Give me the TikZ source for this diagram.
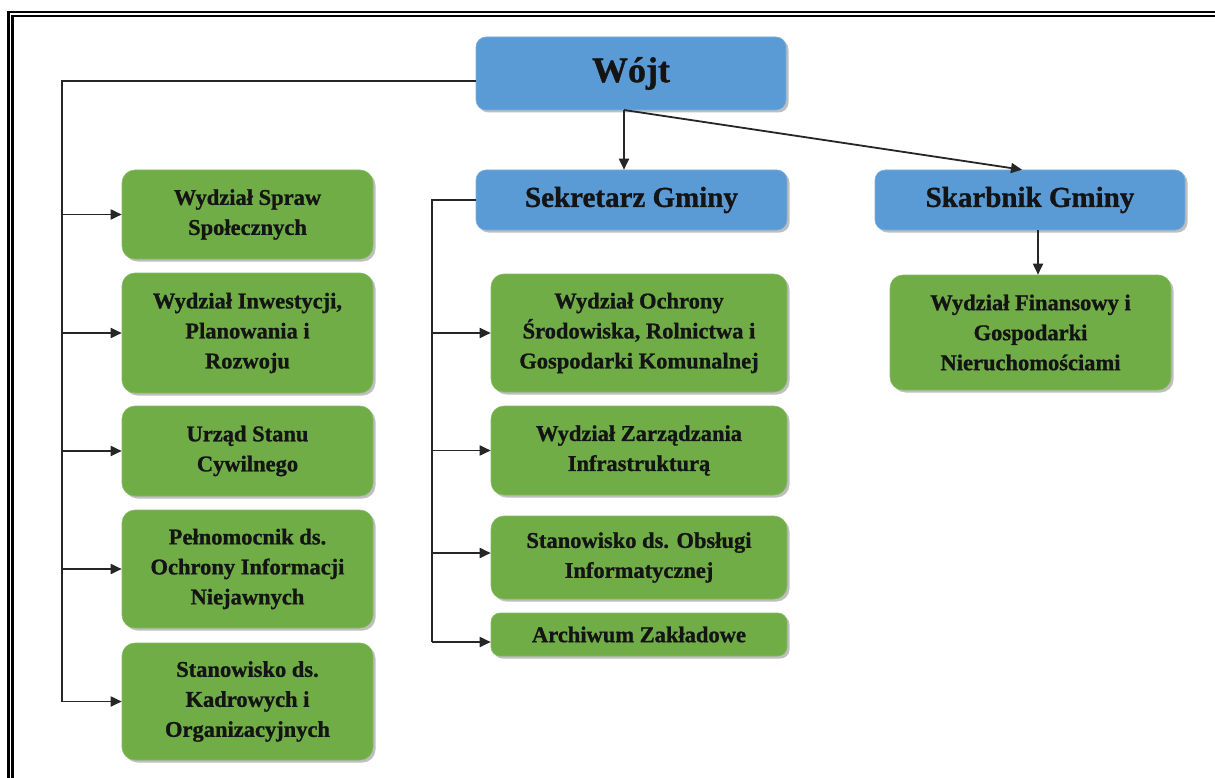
\documentclass[tikz,border=0pt]{standalone}
\usepackage{fontspec}
\setmainfont{Liberation Serif}[BoldFeatures={FakeBold=1}]
\usetikzlibrary{arrows.meta,shadows}
\definecolor{bblue}{HTML}{5B9BD5}
\definecolor{bgreen}{HTML}{70AD47}
\tikzset{
 box/.style={inner sep=0pt, align=center, text=black!92,
   font=\bfseries\fontsize{22.5}{30}\selectfont,
   drop shadow={shadow xshift=2.5pt,shadow yshift=-2.5pt,fill=black!45,opacity=0.55}},
 gbox/.style={box, rounded corners=13pt, fill=bgreen, draw=bgreen!85!white, line width=0.6pt},
 bbox/.style={box, rounded corners=10pt, fill=bblue, draw=bblue!80!white, line width=0.6pt},
 arr/.style={-{Triangle[length=11pt,width=10pt]}, line width=1.8pt, draw=black!85},
 ln/.style={line width=1.8pt, draw=black!85},
}
\begin{document}
\begin{tikzpicture}[x=1pt,y=-1pt]
\useasboundingbox (0,0) rectangle (1215,778);
\clip (0,0) rectangle (1215,778);
\fill[white] (0,0) rectangle (1215,778);
% frame
\draw[line width=2.2pt] (8.5,11.8) rectangle (1300,850);
\draw[line width=2.2pt] (12.5,16) rectangle (1296,846);

% top level
\node[bbox, minimum width=310pt, minimum height=73pt, font=\bfseries\fontsize{36}{40}\selectfont] (wojt) at (631,73.5) {Wójt};
\node[bbox, minimum width=311pt, minimum height=60pt, font=\bfseries\fontsize{29}{32}\selectfont] (sek) at (631.5,200) {Sekretarz Gminy};
\node[bbox, minimum width=310pt, minimum height=60pt, font=\bfseries\fontsize{29}{32}\selectfont] (skarb) at (1030,200) {Skarbnik Gminy};

% left column
\node[gbox, minimum width=251pt, minimum height=89pt] (l1) at (247.5,214.5) {Wydział Spraw\\Społecznych};
\node[gbox, minimum width=251pt, minimum height=120pt] (l2) at (247.5,333) {Wydział Inwestycji,\\Planowania i\\Rozwoju};
\node[gbox, minimum width=251pt, minimum height=90pt] (l3) at (247.5,451) {Urząd Stanu\\Cywilnego};
\node[gbox, minimum width=251pt, minimum height=118pt] (l4) at (247.5,569) {Pełnomocnik ds.\\Ochrony Informacji\\Niejawnych};
\node[gbox, minimum width=251pt, minimum height=117pt] (l5) at (247.5,701.5) {Stanowisko ds.\\Kadrowych i\\Organizacyjnych};

% middle column
\node[gbox, minimum width=296pt, minimum height=118pt] (m1) at (639,333) {Wydział Ochrony\\Środowiska, Rolnictwa i\\Gospodarki Komunalnej};
\node[gbox, minimum width=296pt, minimum height=89pt] (m2) at (639,450.5) {Wydział Zarządzania\\Infrastrukturą};
\node[gbox, minimum width=296pt, minimum height=83pt] (m3) at (639,557.5) {Stanowisko ds. Obsługi\\Informatycznej};
\node[gbox, minimum width=296pt, minimum height=43pt, rounded corners=9pt] (m4) at (639,634.5) {Archiwum Zakładowe};

% right column
\node[gbox, minimum width=281pt, minimum height=115pt] (fin) at (1030.5,332.5) {Wydział Finansowy i\\Gospodarki\\Nieruchomościami};

% connectors from Wojt (left spine)
\coordinate (wl) at (62,81);
\draw[ln] (wojt.west |- wl) -- (wl) -- (wl |- l5.west);
\foreach \b in {l1,l2,l3,l4,l5}{
  \draw[arr] (wl |- \b.west) -- (\b.west);
}

% Wojt down
\coordinate (wb) at (624,110);
\draw[arr] (wb) -- (wb |- sek.north);
\draw[arr] (wb) -- ([xshift=-8pt]skarb.north);

% Sekretarz spine
\coordinate (sl) at (432,200);
\coordinate (s3) at (432,553);
\coordinate (s4) at (432,642);
\draw[ln] (sek.west |- sl) -- (sl) -- (s4);
\draw[arr] (sl |- m1.west) -- (m1.west);
\draw[arr] (sl |- m2.west) -- (m2.west);
\draw[arr] (s3) -- (s3 -| m3.west);
\draw[arr] (s4) -- (s4 -| m4.west);

% Skarbnik down
\draw[arr] ([xshift=8pt]skarb.south) -- ([xshift=8pt]skarb.south |- fin.north);
\end{tikzpicture}
\end{document}
